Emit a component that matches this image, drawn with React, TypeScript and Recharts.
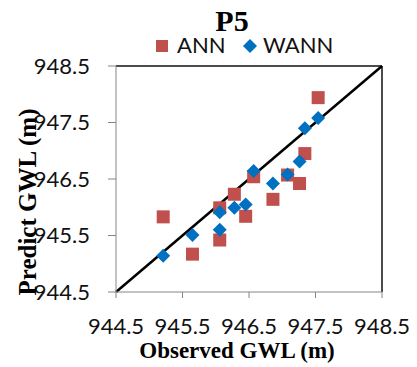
import React from 'react';
import { ScatterChart, Scatter, XAxis, YAxis, ReferenceLine } from 'recharts';

// observed vs predicted groundwater level, station P5
const observedANN = [945.21, 945.65, 946.06, 946.06, 946.28, 946.45, 946.57, 946.86, 947.08, 947.26, 947.34, 947.54];
const predictedANN = [945.83, 945.17, 945.42, 945.99, 946.23, 945.84, 946.54, 946.14, 946.57, 946.42, 946.95, 947.94];
const observedWANN = [945.21, 945.65, 946.06, 946.06, 946.28, 946.45, 946.57, 946.86, 947.08, 947.26, 947.34, 947.54];
const predictedWANN = [945.14, 945.51, 945.6, 945.91, 945.99, 946.05, 946.64, 946.42, 946.58, 946.81, 947.4, 947.58];
const axisTicks = [944.5, 945.5, 946.5, 947.5, 948.5];

const annData = observedANN.map((x, i) => ({ x, y: predictedANN[i] }));
const wannData = observedWANN.map((x, i) => ({ x, y: predictedWANN[i] }));

const RED = '#C0504D';
const BLUE = '#0070C0';
const sans = 'Lato, "Open Sans", sans-serif';
const serif = '"Liberation Serif", "Times New Roman", serif';

const Square = (props: any) => {
  const { cx, cy } = props;
  return <rect x={cx - 6.5} y={cy - 6.5} width={13} height={13} fill={RED} />;
};

const Diamond = (props: any) => {
  const { cx, cy } = props;
  const r = 7;
  return <polygon points={`${cx},${cy - r} ${cx + r},${cy} ${cx},${cy + r} ${cx - r},${cy}`} fill={BLUE} />;
};

export default function App() {
  return (
    <div style={{ position: 'absolute', left: 0, top: 0, width: 417, height: 367, background: '#fff' }}>
      <ScatterChart width={417} height={367} margin={{ top: 66, right: 35, bottom: 25, left: 36 }}>
        <XAxis
          type="number"
          dataKey="x"
          domain={[944.5, 948.5]}
          ticks={axisTicks}
          height={50}
          tickSize={6}
          tickMargin={20}
          stroke="#868686"
          tick={{ fill: '#111', fontSize: 22, fontFamily: sans }}
          interval={0}
          allowDataOverflow
        />
        <YAxis
          type="number"
          dataKey="y"
          domain={[944.5, 948.5]}
          ticks={axisTicks}
          width={80}
          tickSize={8}
          tickMargin={18}
          stroke="#868686"
          tick={{ fill: '#111', fontSize: 22, fontFamily: sans }}
          interval={0}
          allowDataOverflow
        />
        <ReferenceLine y={948.5} stroke="#111" strokeWidth={1.5} />
        <ReferenceLine x={948.5} stroke="#111" strokeWidth={1.5} />
        <ReferenceLine
          segment={[{ x: 944.5, y: 944.5 }, { x: 948.5, y: 948.5 }]}
          stroke="#000"
          strokeWidth={2.5}
        />
        <Scatter name="ANN" data={annData} shape={Square} isAnimationActive={false} />
        <Scatter name="WANN" data={wannData} shape={Diamond} isAnimationActive={false} />
      </ScatterChart>
      <svg width={417} height={367} style={{ position: 'absolute', left: 0, top: 0, pointerEvents: 'none' }}>
        <text x={232} y={31} textAnchor="middle" fontFamily={serif} fontWeight="bold" fontSize={30}>P5</text>
        <rect x={156} y={40} width={12} height={12} fill={RED} />
        <text x={177} y={53} fontFamily={sans} fontSize={22} fill="#111">ANN</text>
        <polygon points="250,39 257,46 250,53 243,46" fill={BLUE} />
        <text x={263} y={53} fontFamily={sans} fontSize={22} fill="#111">WANN</text>
        <text x={237} y={358} textAnchor="middle" fontFamily={serif} fontWeight="bold" fontSize={23}>Observed GWL (m)</text>
        <text
          x={36}
          y={202}
          transform="rotate(-90 36 202)"
          textAnchor="middle"
          fontFamily={serif}
          fontWeight="bold"
          fontSize={25}
        >
          Predict GWL (m)
        </text>
      </svg>
    </div>
  );
}
